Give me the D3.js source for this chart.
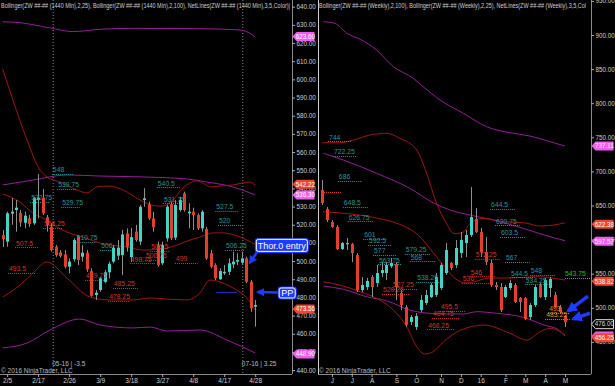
<!DOCTYPE html>
<html>
<head>
<meta charset="utf-8">
<script src="https://cdn.jsdelivr.net/npm/d3@7"></script>
<style>
  body { margin: 0; background: #000; }
  svg { display: block; }
  text { font-family: Arial, "Liberation Sans", sans-serif; }
</style>
</head>
<body>
<div class="chart"></div>
<script>
// ---------- daily (1440 min) panel data ----------
// [open, high, low, close], one per bar
const dayBars = [
  [514.3,517.1,507.7,512.2],[510.7,527.2,507.9,526.3],[526.1,534.7,519.9,527.2],[528.1,533.6,516.2,529.4],
  [526.6,528.1,518.9,521.3],[521.1,527.2,518.0,525.0],[523.5,525.4,518.9,520.4],[520.8,535.4,519.9,534.9],
  [533.6,547.8,523.5,534.9],[534.9,539.7,525.4,526.3],[524.1,525.4,516.2,519.9],[518.9,520.8,505.2,506.1],
  [507.9,508.8,502.4,503.3],[504.8,506.1,501.9,502.8],[503.7,506.1,496.0,496.9],[496.9,501.5,493.3,499.7],
  [501.0,512.5,499.7,511.6],[513.4,514.3,497.8,500.6],[502.4,508.8,499.7,504.6],[504.6,506.1,494.1,495.5],
  [494.5,496.0,480.4,480.9],[481.3,484.1,478.6,482.6],[484.1,491.4,483.1,490.5],[488.6,495.1,487.8,493.8],
  [493.8,499.7,490.5,498.5],[499.7,508.8,498.8,507.4],[503.0,511.6,500.6,507.4],[503.3,517.1,492.3,514.7],
  [515.3,518.0,505.2,507.9],[502.2,518.2,499.5,513.2],[516.2,519.9,510.7,511.6],[510.7,530.9,508.8,529.9],
  [533.6,540.1,529.9,534.5],[531.3,532.7,522.6,523.5],[523.5,527.2,516.2,518.6],[508.8,510.7,496.9,497.8],
  [498.8,510.7,497.8,508.8],[512.5,530.9,510.7,529.9],[531.3,532.7,511.6,512.5],[512.9,533.6,511.6,530.9],
  [528.1,535.4,527.2,533.6],[537.3,538.2,527.2,528.1],[526.3,531.8,518.0,527.2],[527.2,529.4,517.1,525.4],
  [525.4,526.3,517.1,518.0],[518.0,528.1,516.2,527.2],[517.7,518.9,500.6,501.5],[504.3,506.1,496.0,496.9],
  [497.8,498.8,489.6,490.5],[490.0,496.0,489.6,494.5],[493.3,497.8,492.3,494.1],[494.1,501.5,492.3,498.8],
  [498.2,505.2,496.0,499.7],[499.7,504.3,497.8,500.6],[499.1,505.2,497.8,501.5],[501.5,502.4,487.8,488.6],
  [488.6,489.6,472.1,474.0],[474.9,478.6,463.9,475.8]
];
const dayDateIdx = [1, 8, 15, 22, 29, 36, 43, 50, 57];
const dayDates = ["2/5", "2/17", "2/26", "3/9", "3/18", "3/27", "4/8", "4/17", "4/28"];
const dayPriceTicks = [640,630,620,610,600,590,580,570,560,550,540,530,520,510,500,490,480,470,460,450,440];
const dayRollIdx = [11.4, 54.2];
const dayRollText = ["05-16 | -3.5", "07-16 | 3.25"];

// Bollinger (25) upper / middle / lower, [bar, price]
const dayBB25Up = [[0,605.7],[2.3,588.7],[5.5,566.6],[8.4,550.1],[10,546.3],[12.9,543.5],[16.8,539.1],[19,537.5],[21.3,540.8],[24.2,541.3],[27.2,539.1],[31,533.6],[34.8,530.3],[36.2,530.3],[38.4,533.6],[40.7,540.2],[43.9,544.1],[45.2,543.0],[46.8,540.8],[49,541.3],[52,541.9],[54.2,543.0],[55.6,543.5],[57,541.9]];
const dayBB25Mid = [[0,537],[3.9,532.5],[6.8,526.5],[9.1,523.7],[12.3,518.7],[14.5,516.0],[18.1,513.2],[22,509.9],[28.1,507.7],[31.7,506.1],[37.1,507.2],[42.3,511.6],[44.5,513.2],[47.5,515.5],[49.7,515.5],[53.6,513.2],[57,509.2]];
const dayBB25Low = [[0,480.2],[3.9,486.8],[6.8,493.4],[10,499.5],[14.5,490.7],[19.7,480.2],[24.2,478.6],[29.4,478.6],[33.3,479.7],[37.1,479.1],[41.6,478.6],[44.5,482.4],[46.8,489.6],[49,488.5],[52,485.2],[55.1,479.7],[57,473.1]];
// Bollinger (100)
const dayBB100Up = [[0,631.7],[3.9,631.2],[10.7,628.3],[15.9,626.3],[22,627.6],[29.4,628.1],[44.5,627.9],[53.6,627.2],[55.1,626.3],[57,623.3]];
const dayBB100Mid = [[0,541.9],[6.8,544.6],[14.5,547.4],[22,546.8],[31.7,546.3],[41.6,545.2],[46.1,543.5],[52,540.8],[57,536.4]];
const dayBB100Low = [[0,452.2],[5.5,454.9],[10.7,462.1],[17.4,468.1],[22,464.8],[29.4,463.2],[33.3,463.7],[37.1,461.5],[44.5,462.1],[50.6,456.6],[57,449.4]];

// net lines: [price, fromBar, toBar, label]
const dayNetUp = [
  [548,11.1,15.9,"548"],[539.75,12.3,16.8,"539.75"],[529.75,13.2,17.4,"529.75"],[532.75,6.2,10.7,"532.75"],
  [540.5,34.8,40,"540.5"],[531.75,36.2,41.2,"531.75"],[527.5,48,53.1,"527.5"],[520,48.6,54,"520"],
  [506.25,50.2,54.7,"506.25"],[506,22,25.4,"506"],[510.75,16.5,21.1,"510.75"]
];
const dayNetDn = [
  [507.5,2.8,8,"507.5"],[493.5,1.2,7.3,"493.5"],[518.25,9.1,13.4,"518.25"],[489.75,18.6,23.1,"489.75"],
  [485.25,24.9,30.5,"485.25"],[478.25,23.8,28.7,"478.25"],[498.75,28.7,34.4,"498.75"],[500.75,32.1,36.6,"500.75"],
  [505.5,33.3,37.8,"505.5"],[499,38.9,44,"499"]
];
const dayPivot = [[483,48.2,52.9]];
// price tags on the axis: [price, text, kind]
const dayTags = [[623.6,"623.60","m"],[542.22,"542.22","r"],[536.3,"536.30","m"],[473.56,"473.56","r"],[448.9,"448.90","m"]];

// ---------- weekly panel data ----------
const wkBars = [
  [672.7,687.4,650.7,653.6],[644.8,647.8,625.8,628.7],[625.8,628.7,617.0,618.5],[618.5,621.4,584.7,586.2],
  [586.2,596.4,584.7,595.0],[593.5,602.3,584.7,595.0],[593.5,595.0,567.1,580.3],[577.4,580.3,523.1,526.1],
  [526.1,545.1,523.1,533.4],[530.5,543.7,526.1,539.3],[545.1,548.1,515.8,530.5],[536.3,562.7,530.5,551.0],
  [551.0,567.1,545.1,555.4],[551.0,567.1,540.7,562.7],[561.0,573.0,558.3,565.7],[564.2,567.1,511.4,530.5],
  [521.7,526.1,496.7,504.1],[501.1,504.1,471.8,474.7],[479.2,489.4,474.7,486.5],[471.8,492.3,467.4,488.0],
  [496.7,518.7,493.8,511.4],[507.0,526.1,504.1,518.7],[515.8,536.3,514.3,533.4],[518.7,551.0,515.8,545.1],
  [529.0,565.7,526.1,562.7],[551.0,595.0,548.1,584.7],[565.7,567.1,555.4,558.3],[562.7,599.4,558.3,587.7],
  [580.3,611.1,573.0,599.4],[595.0,614.1,574.4,606.7],[606.7,677.1,603.8,633.1],[630.2,646.3,609.7,611.1],
  [611.1,617.0,574.4,581.8],[581.8,603.8,562.7,567.1],[565.7,570.1,530.5,533.4],[533.4,537.8,526.1,530.5],
  [530.5,536.3,493.8,496.7],[515.8,533.4,514.3,530.5],[529.0,540.7,526.1,536.3],[533.4,536.3,507.0,508.5],
  [514.3,515.8,493.8,508.5],[514.3,515.8,482.2,483.6],[486.5,507.0,482.2,504.1],[504.1,533.4,501.1,530.5],
  [533.4,536.3,514.3,515.8],[515.8,543.7,511.4,540.7],[529.0,545.1,515.8,542.2],[518.7,523.1,500.2,501.1],
  [501.1,504.1,492.3,493.8],[488.0,489.4,471.8,478.9]
];
const wkMonthIdx = [2, 6, 10, 15, 19, 24, 28, 32, 37, 41, 45, 49];
const wkMonths = ["J","J","A","S","O","N","D","16","F","M","A","M"];
const wkPriceTicks = [950,900,850,800,750,700,650,600,550,500,450];

const wkBB100Up = [[0.3,919.5],[2.6,917.1],[5,902.5],[7.7,893.7],[11,878],[14.4,853.5],[18.4,836.5],[20.4,824.2],[23.8,804.7],[28.5,785.2],[33.2,765.5],[37.9,756.7],[41.9,751.9],[46,743.5],[49,737.2]];
const wkBB100Mid = [[0.3,726.5],[4.3,716.7],[11,697.2],[17.7,675.2],[22.4,654.1],[25.8,643.4],[29.8,636.0],[34.5,628.7],[40.6,616.5],[44.8,606.7],[49,598.4]];
const wkBB100Low = [[0.3,531.9],[4.3,527.1],[9,516.2],[13,510.4],[17.7,496.7],[21.8,491.9],[28.5,490.9],[31.2,494.3],[35.2,491.9],[40.6,486.0],[44.8,474.7],[47.5,468.5],[49,458.6]];
const wkBB25Up = [[0,742.0],[3.6,742.0],[6.3,746.0],[9.7,753.4],[13,755.8],[15.7,748.5],[19.1,731.4],[21.1,697.2],[23.1,653.2],[25.1,623.9],[26.6,609],[28.2,609.7],[29.9,623.9],[32.6,631.2],[36.7,626.2],[40.7,624.7],[44.1,619.9],[46.8,621.4],[49,624.7]];
const wkBB25Mid = [[0.2,640.9],[5.9,637.5],[11.3,631.2],[16,621.4],[19.4,606.7],[22,584.7],[24.7,560.2],[26.8,543.2],[29.2,536.3],[33.9,543.7],[37.9,543.7],[43,545.6],[49,540.7]];
const wkBB25Low = [[0.3,538.3],[4.3,531.9],[7.7,523.6],[11,513.9],[14.4,496.7],[17.1,472.2],[19.1,442.9],[20.8,432.2],[22.4,435.6],[24.5,450.2],[28,467.4],[32.7,474.7],[37.9,462.6],[41.3,452.7],[44,464.9],[46,469.9],[49,460.1]];

const wkNetUp = [
  [744,1.2,6,"744"],[722.25,2.2,7.1,"722.25"],[686,3.2,8.1,"686"],[648.5,4.2,9.3,"648.5"],[626.75,5.2,10.3,"626.75"],
  [601,8.3,13.1,"601"],[592.5,9.3,14.1,"592.5"],[577,10.3,15.1,"577"],[563.75,11.3,16.1,"563.75"],
  [579.25,16.7,21.8,"579.25"],[568,17.7,23,"568"],[538.25,19,23.8,"538.25"],
  [644.5,33.9,38.9,"644.5"],[620.75,34.9,39.9,"620.75"],[603.5,35.9,40.9,"603.5"],[567,36.9,41.9,"567"],
  [544.5,37.9,42.9,"544.5"],[548,41.9,47,"548"],[534.25,40.9,46,"534.25"]
];
const wkNetDn = [
  [670,0,4,""],[520.25,12.1,17.7,"520.25"],[527.25,14.1,19.4,"527.25"],[572.25,30.8,35.9,"572.25"],
  [546,29.8,34.9,"546"],[536,28.2,33.9,"536"],[495.5,23.8,28.8,"495.5"],[484.75,22.2,27.8,"484.75"],
  [468.25,21.2,26.8,"468.25"]
];
const wkNetOrange = [[493,45.6,50,"493"],[483.25,45,50,"483.25"]];
const wkNetGreen = [[543.75,49,54.2,"543.75"]];
const wkTags = [[737.11,"737.11","m"],[622.38,"622.38","r"],[597.57,"597.57","m"],[538.82,"538.82","r"],[458.6,"","m"],[476.0,"476.00","k"],[456.25,"456.25","r"]];

// ---------- drawing ----------
const width = 615, height = 386;
const axisY = 374;
const col = {
  up: "#3fd6c6", dn: "#e33f2a", wick: "#8f8f8f", text: "#cfcfcf",
  bb25: "#a3150d", bb100: "#981c98",
  netUp: "#23979a", netDn: "#d03826", orange: "#e28c1e", green: "#22c022",
  tagR: "#f0452a", tagM: "#f35cf3", blue: "#1c3cff"
};
const fmt = d3.format(".2f");

const svg = d3.select(".chart").append("svg")
  .attr("width", width).attr("height", height);
svg.append("rect").attr("width", width).attr("height", height).attr("fill", "#000");

const defs = svg.append("defs");
defs.append("marker").attr("id", "ah").attr("viewBox", "0 0 10 10")
  .attr("refX", 8).attr("refY", 5).attr("markerWidth", 3.2).attr("markerHeight", 3.2)
  .attr("orient", "auto-start-reverse")
  .append("path").attr("d", "M0,0L10,5L0,10z").attr("fill", col.blue);

function drawPanel(p) {
  const { x, y, left, right } = p;
  const clipId = "clip" + p.id;
  defs.append("clipPath").attr("id", clipId)
    .append("rect").attr("x", left).attr("y", 0).attr("width", right - left).attr("height", axisY);
  const g = svg.append("g");
  const plot = g.append("g").attr("clip-path", `url(#${clipId})`);

  // rollover separators
  (p.roll || []).forEach((r, k) => {
    plot.append("line").attr("x1", x(r)).attr("x2", x(r)).attr("y1", 0).attr("y2", axisY)
      .attr("stroke", "#8a8a8a").attr("stroke-dasharray", "1,2");
    g.append("text").attr("x", x(r) - 1).attr("y", 366).attr("fill", "#bbb")
      .attr("font-size", 6.5).text(p.rollText[k]);
  });

  // bands
  const line = d3.line().x(d => x(d[0])).y(d => y(d[1])).curve(d3.curveMonotoneX);
  p.bands.forEach(b => {
    plot.append("path").datum(b.pts).attr("d", line)
      .attr("fill", "none").attr("stroke", b.color).attr("stroke-width", 1);
  });

  // net lines
  p.nets.forEach(n => {
    n.data.forEach(d => {
      plot.append("line").attr("x1", x(d[1])).attr("x2", x(d[2]))
        .attr("y1", Math.round(y(d[0])) + 0.5).attr("y2", Math.round(y(d[0])) + 0.5)
        .attr("stroke", n.color).attr("stroke-dasharray", n.dash || "1,1")
        .attr("stroke-width", n.width || 1);
      if (d[3]) {
        g.append("text").attr("x", x(d[1]) + 1).attr("y", y(d[0]) - 1.8)
          .attr("fill", n.color).attr("font-size", 6.8).text(d[3]);
      }
    });
  });

  // candles
  const bw = 3;
  plot.selectAll(".wick").data(p.bars).join("line").attr("class", "wick")
    .attr("x1", (d, i) => Math.round(x(i)) + 0.5).attr("x2", (d, i) => Math.round(x(i)) + 0.5)
    .attr("y1", d => y(d[1])).attr("y2", d => y(d[2]))
    .attr("stroke", col.wick).attr("stroke-width", 1);
  plot.selectAll(".body").data(p.bars).join("rect").attr("class", "body")
    .attr("x", (d, i) => Math.round(x(i)) - 1)
    .attr("width", bw)
    .attr("y", d => y(Math.max(d[0], d[3])))
    .attr("height", d => Math.max(1.2, Math.abs(y(d[0]) - y(d[3]))))
    .attr("fill", d => d[3] >= d[0] ? col.up : col.dn);

  // price axis
  const yAxis = d3.axisRight(y).tickValues(p.priceTicks).tickFormat(fmt).tickSize(3).tickPadding(1.5);
  const ya = g.append("g").attr("transform", `translate(${right},0)`).call(yAxis);
  ya.select(".domain").attr("stroke", "#8a8a8a").attr("d", `M0.5,0V${axisY}`);
  ya.selectAll(".tick line").attr("stroke", "#aaa");
  ya.selectAll("text").attr("fill", col.text).attr("font-size", 6.3).attr("font-family", "Arial");

  // time axis
  const xAxis = d3.axisBottom(x).tickValues(p.timeIdx).tickFormat((d, i) => p.timeText[i]).tickSize(3).tickPadding(1);
  const xa = g.append("g").attr("transform", `translate(0,${axisY})`).call(xAxis);
  xa.select(".domain").attr("stroke", "#8a8a8a").attr("d", `M${left},0.5H${right}`);
  xa.selectAll(".tick line").attr("stroke", "#aaa");
  xa.selectAll("text").attr("fill", col.text).attr("font-size", 6.5).attr("font-family", "Arial");

  // header + copyright
  g.append("text").attr("x", left + 1).attr("y", 7.5).attr("fill", col.text)
    .attr("font-size", 7).attr("textLength", p.headLen).attr("lengthAdjust", "spacingAndGlyphs")
    .text(p.header);
  g.append("text").attr("x", left + 1).attr("y", 372.5).attr("fill", "#bbb")
    .attr("font-size", 6.5).text("\u00a9 2016 NinjaTrader, LLC");

  // price tags
  p.tags.forEach(t => {
    const ty = y(t[0]);
    const fill = t[2] === "r" ? col.tagR : t[2] === "m" ? col.tagM : "#000";
    g.append("path")
      .attr("d", `M${right + 0.5},${ty}l4,-4.5h18v9h-18z`)
      .attr("fill", fill).attr("stroke", t[2] === "k" ? "#ddd" : "none");
    if (t[1]) g.append("text").attr("x", right + 13.5).attr("y", ty + 2.3).attr("text-anchor", "middle")
      .attr("fill", t[2] === "k" ? "#ddd" : "#fff").attr("font-size", 6.3).text(t[1]);
  });
  return g;
}

// daily scales
const xDay = d3.scaleLinear().domain([0, 57]).range([2.7, 255.2]);
const yDay = d3.scaleLinear().domain([440, 640]).range([370.1, 6.7]);
// weekly scales
const xWk = d3.scaleLinear().domain([0, 49]).range([322, 565]);
const yWk = d3.scaleLinear().domain([450, 900]).range([341.9, 35]);

const gDay = drawPanel({
  id: "d", x: xDay, y: yDay, left: 0, right: 292,
  bars: dayBars, priceTicks: dayPriceTicks, timeIdx: dayDateIdx, timeText: dayDates,
  roll: dayRollIdx, rollText: dayRollText,
  bands: [
    { pts: dayBB100Up, color: col.bb100 }, { pts: dayBB100Mid, color: col.bb100 }, { pts: dayBB100Low, color: col.bb100 },
    { pts: dayBB25Up, color: col.bb25 }, { pts: dayBB25Mid, color: col.bb25 }, { pts: dayBB25Low, color: col.bb25 }
  ],
  nets: [
    { data: dayNetUp, color: col.netUp }, { data: dayNetDn, color: col.netDn },
    { data: dayPivot.map(d => [d[0], d[1], d[2], ""]), color: "#1a2bb8", dash: "none", width: 1.3 }
  ],
  tags: dayTags,
  header: "Bollinger(ZW ##-## (1440 Min),2,25), Bollinger(ZW ##-## (1440 Min),2,100), NetLines(ZW ##-## (1440 Min),3,5,Color)|",
  headLen: 289
});

const gWk = drawPanel({
  id: "w", x: xWk, y: yWk, left: 318, right: 591,
  bars: wkBars, priceTicks: wkPriceTicks, timeIdx: wkMonthIdx, timeText: wkMonths,
  bands: [
    { pts: wkBB100Up, color: col.bb100 }, { pts: wkBB100Mid, color: col.bb100 }, { pts: wkBB100Low, color: col.bb100 },
    { pts: wkBB25Up, color: col.bb25 }, { pts: wkBB25Mid, color: col.bb25 }, { pts: wkBB25Low, color: col.bb25 }
  ],
  nets: [
    { data: wkNetUp, color: col.netUp }, { data: wkNetDn, color: col.netDn },
    { data: wkNetOrange, color: col.orange }
  ],
  tags: wkTags,
  header: "Bollinger(ZW ##-## (Weekly),2,100), Bollinger(ZW ##-## (Weekly),2,25), NetLines(ZW ##-## (Weekly),3,5,Col",
  headLen: 267
});

// green net line runs past the last bar up to the axis
wkNetGreen.forEach(d => {
  gWk.append("line").attr("x1", xWk(d[1])).attr("x2", 591)
    .attr("y1", Math.round(yWk(d[0])) + 0.5).attr("y2", Math.round(yWk(d[0])) + 0.5)
    .attr("stroke", col.green).attr("stroke-dasharray", "1,1");
  gWk.append("text").attr("x", xWk(d[1])).attr("y", yWk(d[0]) - 1.8)
    .attr("fill", col.green).attr("font-size", 6.8).text(d[3]);
});

// panel frame line
svg.append("line").attr("x1", 318.5).attr("x2", 318.5).attr("y1", 0).attr("y2", axisY)
  .attr("stroke", "#cfcfcf");

// ---------- annotations ----------
// callout: target [bar, price], box offset from target (px)
const callouts = [
  { x: xDay, y: yDay, bar: 55, price: 499, dx: 2.5, text: "Thor.0 entry", bx: 6, by: -25, bw: 54, bh: 15, from: [9, -12] },
  { x: xDay, y: yDay, bar: 57, price: 483, dx: 1.5, text: "PP", bx: 21, by: -5.5, bw: 19, bh: 13, from: [21, 0.5] }
];
callouts.forEach(c => {
  const tx = c.x(c.bar) + c.dx, ty = c.y(c.price);
  svg.append("line").attr("x1", tx + c.from[0]).attr("y1", ty + c.from[1]).attr("x2", tx + 1).attr("y2", ty)
    .attr("stroke", col.blue).attr("stroke-width", 2.6).attr("marker-end", "url(#ah)");
  svg.append("rect").attr("x", tx + c.bx).attr("y", ty + c.by).attr("width", c.bw).attr("height", c.bh)
    .attr("rx", 3).attr("fill", col.blue);
  svg.append("rect").attr("x", tx + c.bx + 1.5).attr("y", ty + c.by + 1.5).attr("width", c.bw - 3).attr("height", c.bh - 3)
    .attr("rx", 2).attr("fill", col.blue).attr("stroke", "#fff").attr("stroke-width", 1);
  svg.append("text").attr("x", tx + c.bx + c.bw / 2).attr("y", ty + c.by + c.bh / 2 + 3.2)
    .attr("text-anchor", "middle").attr("fill", "#fff").attr("font-size", 9).text(c.text);
});

const wkArrows = [
  { bar: 49, price: 495, dx: 2, from: [21, -15] },
  { bar: 49, price: 483.5, dx: 7, from: [18, -6] }
];
wkArrows.forEach(a => {
  const tx = xWk(a.bar) + a.dx, ty = yWk(a.price);
  svg.append("line").attr("x1", tx + a.from[0]).attr("y1", ty + a.from[1]).attr("x2", tx + 1).attr("y2", ty)
    .attr("stroke", col.blue).attr("stroke-width", 3.4).attr("marker-end", "url(#ah)");
});
</script>
</body>
</html>
